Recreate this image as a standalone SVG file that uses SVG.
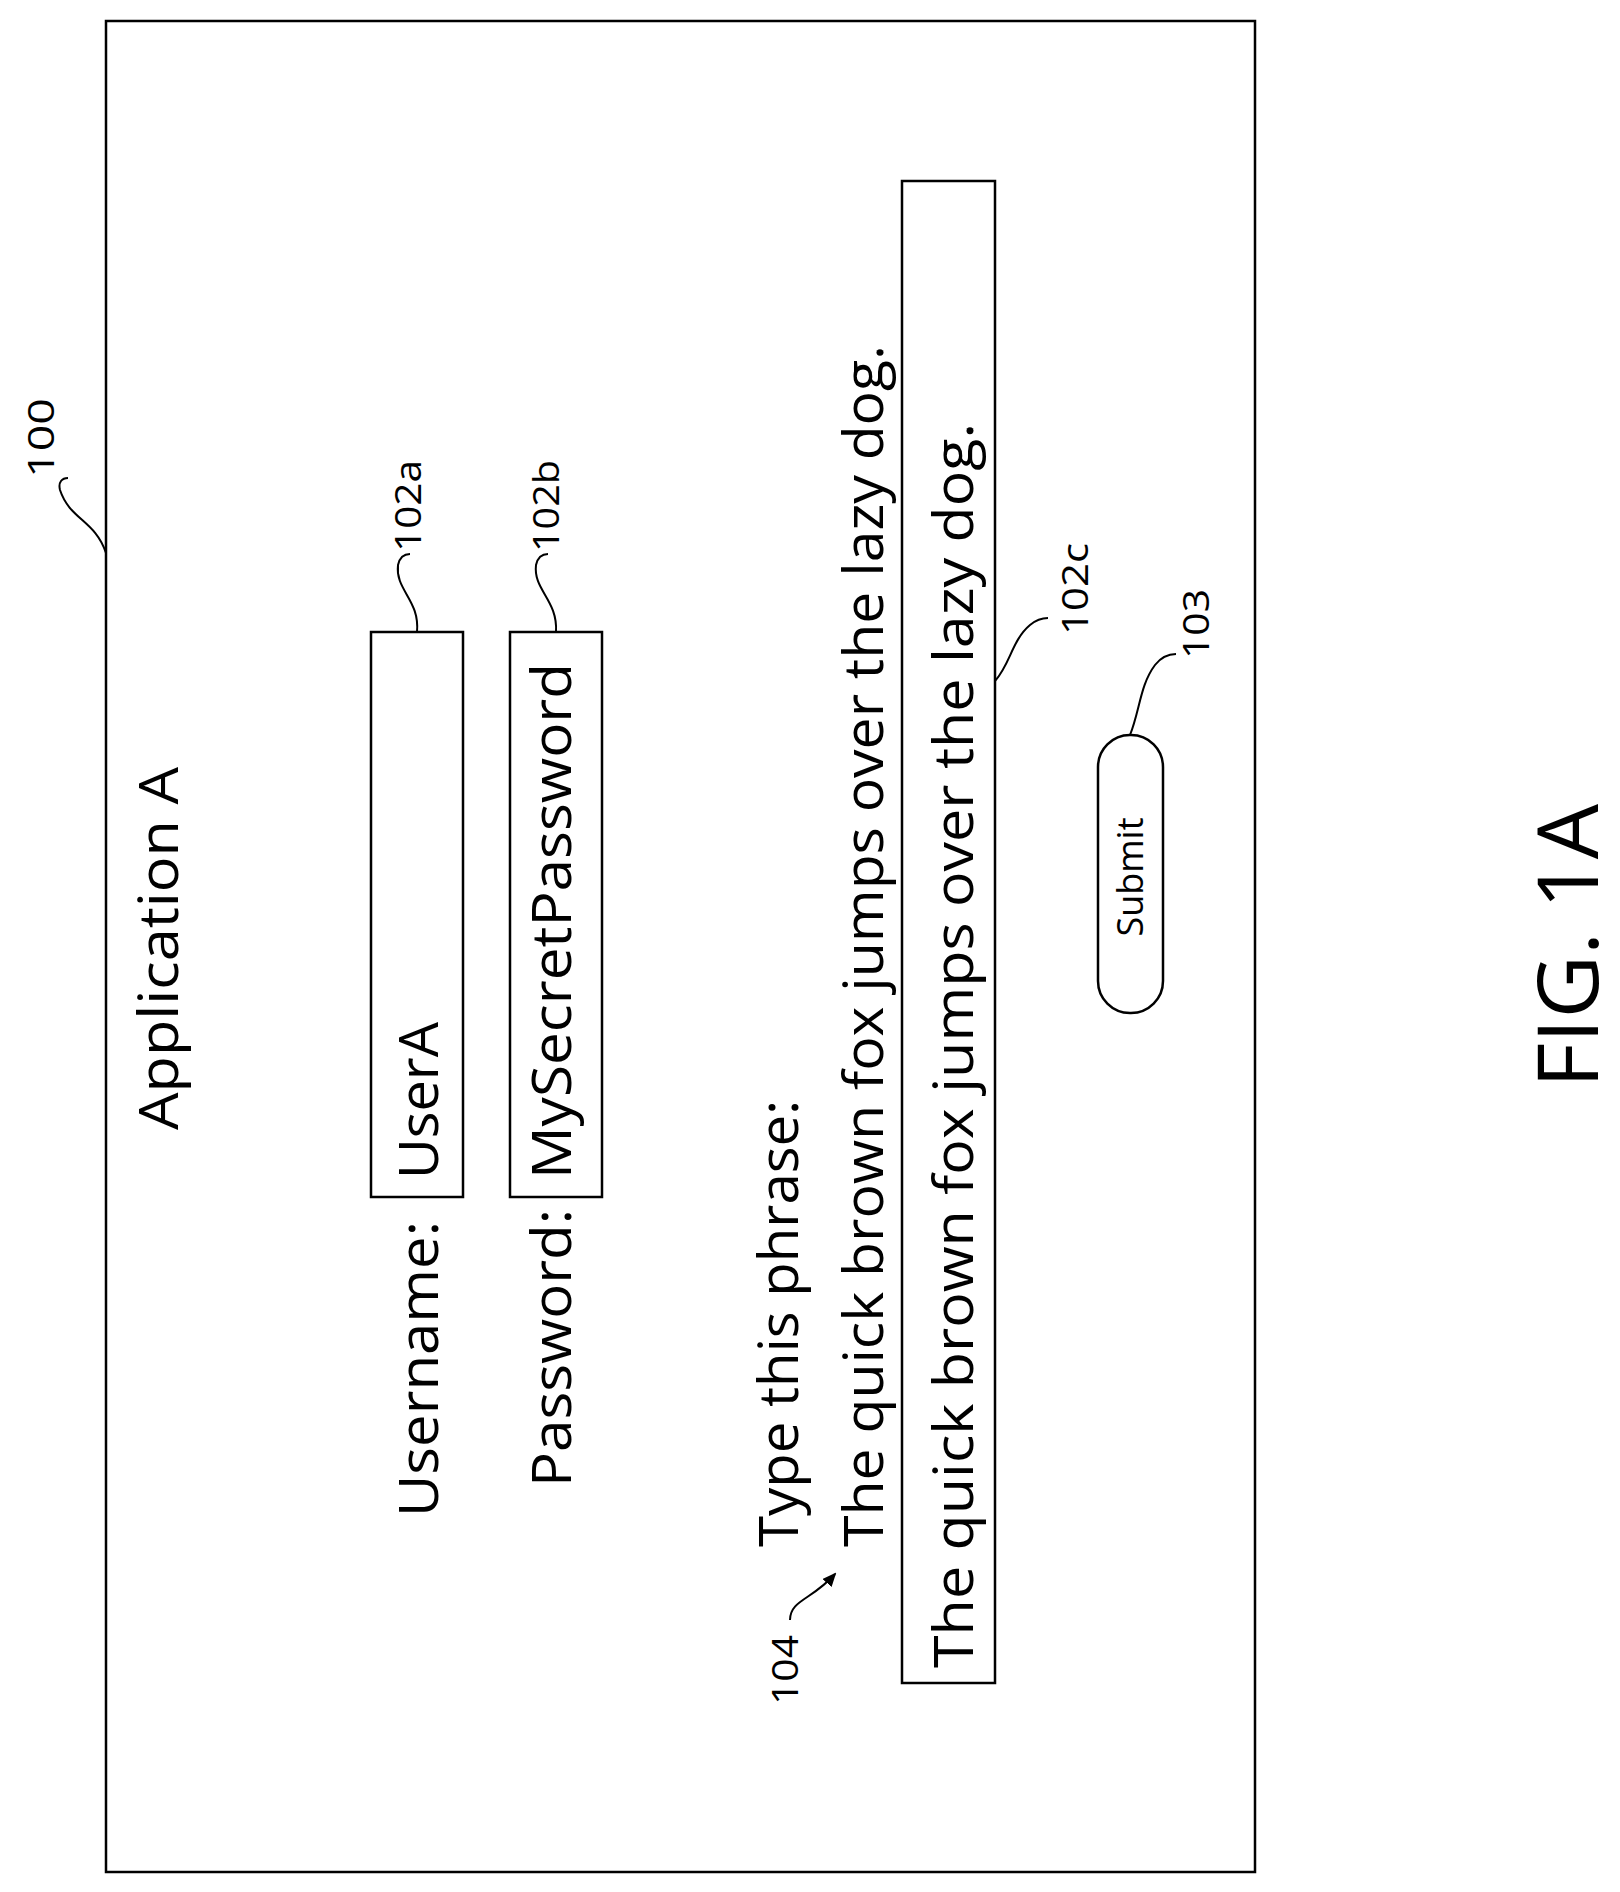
<svg xmlns="http://www.w3.org/2000/svg" width="1620" height="1892" viewBox="0 0 1620 1892">
<style>
text{font-family:"Open Sans","Liberation Sans",sans-serif;fill:#000}
.b{fill:#fff;stroke:#000;stroke-width:2.5}
.l{fill:none;stroke:#000;stroke-width:2}
.t{font-size:54px}
.r{font-size:36px}
</style>
<defs><marker id="ah" markerWidth="14" markerHeight="12" refX="12" refY="6" orient="auto" markerUnits="userSpaceOnUse"><path d="M0,0 L14,6 L0,12 Z" fill="#000"/></marker></defs>
<rect width="1620" height="1892" fill="#fff"/>
<g id="frame"><rect class="b" x="106" y="21" width="1149" height="1851" fill="none"/></g>
<g id="title"><text class="t" transform="translate(178,1130) rotate(-90)" textLength="363" lengthAdjust="spacingAndGlyphs">Application A</text></g>
<g id="username"><text class="t" transform="translate(438,1517) rotate(-90)" textLength="296" lengthAdjust="spacingAndGlyphs">Username:</text>
<rect class="b" x="371" y="632" width="92" height="565"/>
<text class="t" transform="translate(438,1179) rotate(-90)" textLength="157" lengthAdjust="spacingAndGlyphs">UserA</text></g>
<g id="password"><text class="t" transform="translate(571,1487) rotate(-90)" textLength="278" lengthAdjust="spacingAndGlyphs">Password:</text>
<rect class="b" x="510" y="632" width="92" height="565"/>
<text class="t" transform="translate(571,1179) rotate(-90)" textLength="516" lengthAdjust="spacingAndGlyphs">MySecretPassword</text></g>
<g id="phrase"><text class="t" transform="translate(798,1547) rotate(-90)" textLength="447" lengthAdjust="spacingAndGlyphs">Type this phrase:</text>
<text class="t" transform="translate(883,1547) rotate(-90)" textLength="1202" lengthAdjust="spacingAndGlyphs">The quick brown fox jumps over the lazy dog.</text></g>
<g id="input"><rect class="b" x="902" y="181" width="93" height="1502"/>
<text class="t" transform="translate(973,1668) rotate(-90)" textLength="1245" lengthAdjust="spacingAndGlyphs">The quick brown fox jumps over the lazy dog.</text></g>
<g id="submit"><rect class="b" x="1098" y="735" width="65" height="278" rx="32"/>
<text class="r" transform="translate(1143,877) rotate(-90)" text-anchor="middle">Submit</text></g>
<g id="fig"><text transform="translate(1598,1088) rotate(-90)" font-size="84" textLength="284" lengthAdjust="spacingAndGlyphs">FIG. 1A</text></g>
<g id="labels">
<text class="r" transform="translate(54,478) rotate(-90)" textLength="80" lengthAdjust="spacingAndGlyphs">100</text>
<text class="r" transform="translate(421,552) rotate(-90)" textLength="92" lengthAdjust="spacingAndGlyphs">102a</text>
<text class="r" transform="translate(559,552) rotate(-90)" textLength="92" lengthAdjust="spacingAndGlyphs">102b</text>
<text class="r" transform="translate(1088,635) rotate(-90)" textLength="92" lengthAdjust="spacingAndGlyphs">102c</text>
<text class="r" transform="translate(1209,659) rotate(-90)" textLength="70" lengthAdjust="spacingAndGlyphs">103</text>
<text class="r" transform="translate(798,1705) rotate(-90)" textLength="70" lengthAdjust="spacingAndGlyphs">104</text>
</g>
<g id="connectors">
<path class="l" d="M106,553 C95,520 70,520 60,490 C58,482 62,478 68,478"/>
<path class="l" d="M417,632 C420,600 395,590 398,565 C400,556 405,554 410,554"/>
<path class="l" d="M556,632 C558,600 533,590 536,565 C538,556 543,554 548,554"/>
<path class="l" d="M995,681 C1010,665 1012,640 1030,625 C1036,620 1042,618 1048,618"/>
<path class="l" d="M1130,735 C1140,710 1140,685 1155,665 C1162,656 1170,654 1176,654"/>
<path class="l" d="M790,1620 C790,1600 812,1600 835,1574" marker-end="url(#ah)"/>
</g>
</svg>
